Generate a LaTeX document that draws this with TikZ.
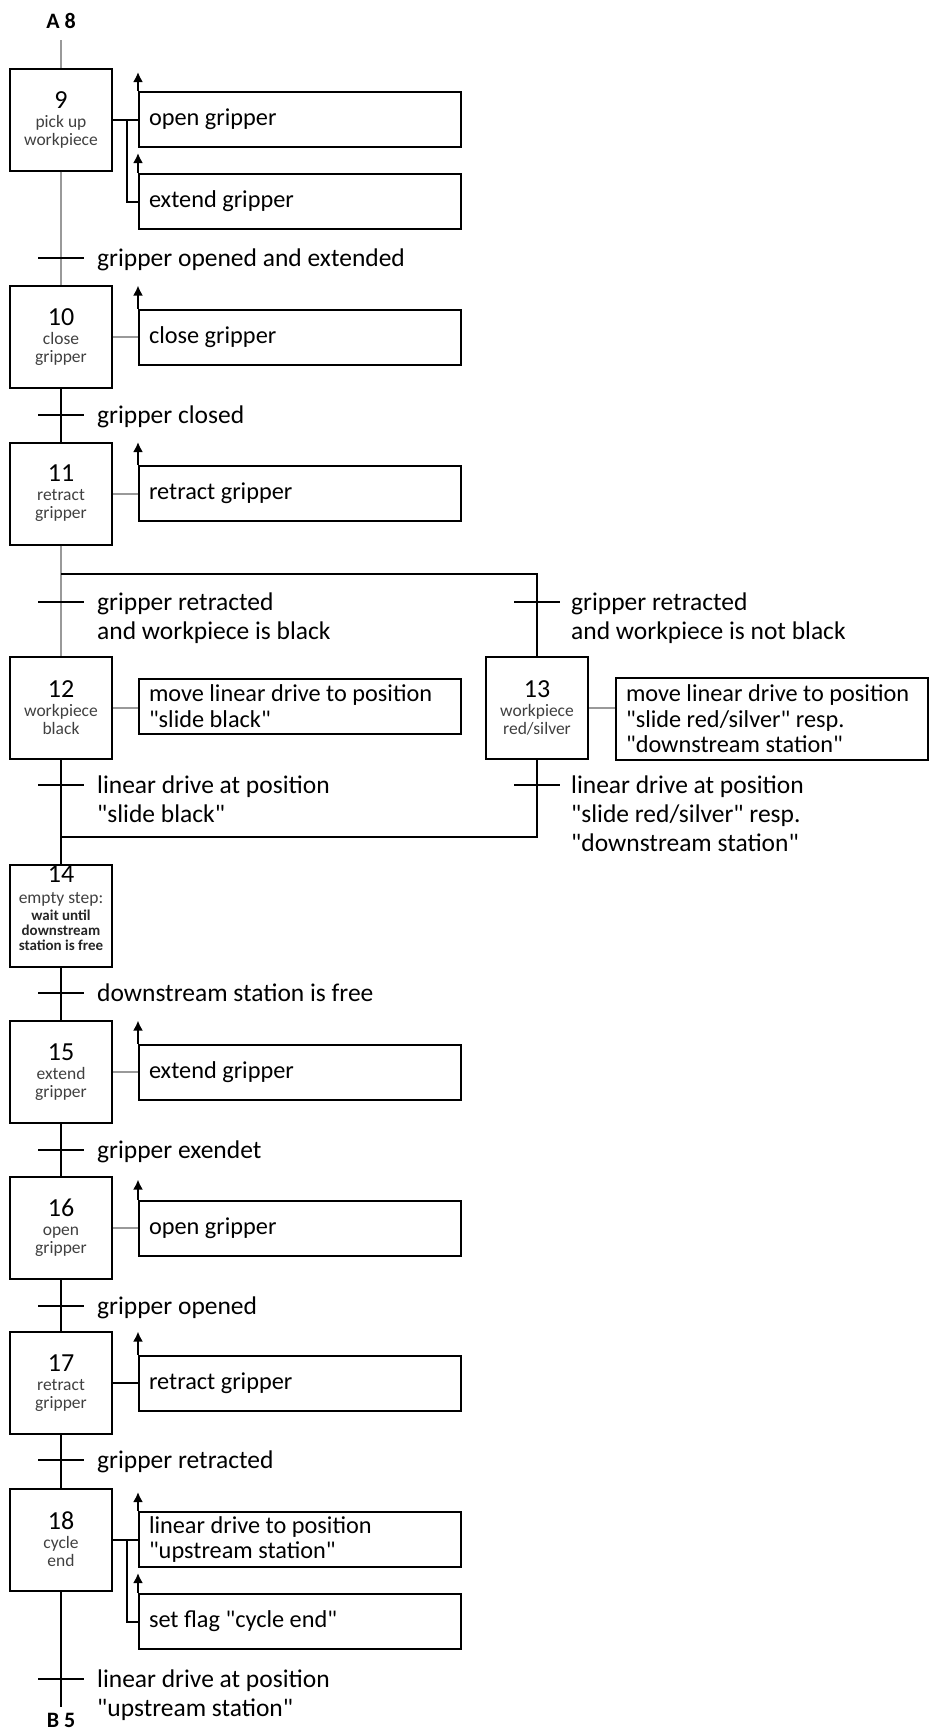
\documentclass[tikz,border=0pt]{standalone}
\usepackage{fontspec}
\setmainfont{Carlito}
\usetikzlibrary{arrows.meta}
\newcommand{\stepnumfont}{\fontsize{26}{28}\selectfont\mdseries\color{black}}
\newcommand{\qt}[1]{\textquotedbl#1\textquotedbl}
\begin{document}
\begin{tikzpicture}[x=1pt,y=-1pt,
    stepbox/.style={draw, line width=2pt, minimum width=102pt, minimum height=102pt, inner sep=0pt,
      align=center, font=\fontsize{17.5}{18}\selectfont, text=black!75},
    actbox/.style={draw, line width=2pt, minimum height=55pt, inner xsep=10pt, inner ysep=2pt,
      text width=302pt, align=flush left, font=\fontsize{24.3}{25.5}\selectfont, anchor=west},
    translabel/.style={anchor=north west, inner sep=0pt, align=left, font=\fontsize{25.5}{29}\selectfont},
    tick/.style={line width=2pt},
    bline/.style={line width=2pt},
    gline/.style={line width=2pt, black!40},
    actarrow/.style={line width=2pt, -{Latex[length=10pt,width=10pt]}},
  ]
  \useasboundingbox (0,0) rectangle (929,1733);

  \node[font=\fontsize{22}{24}\selectfont\bfseries, inner sep=0pt] (a8) at (61,21) {A 8};
  \coordinate (in9) at (61,40);

  \node[stepbox] (s9) at (61,119.5) {{\stepnumfont 9}\\[1pt]pick up\\workpiece};
  \node[stepbox] (s10) at (61,337) {{\stepnumfont 10}\\[1pt]close\\gripper};
  \node[stepbox] (s11) at (61,493.5) {{\stepnumfont 11}\\[1pt]retract\\gripper};
  \node[stepbox] (s12) at (61,707.5) {{\stepnumfont 12}\\[1pt]workpiece\\black};
  \node[stepbox] (s13) at (537,707.5) {{\stepnumfont 13}\\[1pt]workpiece\\red/silver};
  \node[stepbox] (s14) at (61,916) {};
  \node[inner sep=0pt, anchor=north, align=center, text=black!85,
    font=\fontsize{15}{15}\selectfont\bfseries] (s14t) at (61,866)
    {{\stepnumfont 14}\\[6pt]{\fontsize{17.5}{17}\selectfont\mdseries\color{black!75}empty step:}\\[2pt]wait until\\downstream\\station is free};
  \node[stepbox] (s15) at (61,1072) {{\stepnumfont 15}\\[1pt]extend\\gripper};
  \node[stepbox] (s16) at (61,1228) {{\stepnumfont 16}\\[1pt]open\\gripper};
  \node[stepbox] (s17) at (61,1383) {{\stepnumfont 17}\\[1pt]retract\\gripper};
  \node[stepbox] (s18) at (61,1539.5) {{\stepnumfont 18}\\[1pt]cycle\\end};

  \coordinate (out18) at (61,1707);
  \node[font=\fontsize{22}{24}\selectfont\bfseries, inner sep=0pt, anchor=north] (b5) at (61,1713) {B 5};

  \node[actbox] (a9a) at (138,119.5) {open gripper};
  \node[actbox] (a9b) at (138,201.5) {extend gripper};
  \node[actbox] (a10) at (138,337) {close gripper};
  \node[actbox] (a11) at (138,493.5) {retract gripper};
  \node[actbox] (a12) at (138,706) {move linear drive to position\\\qt{slide black}};
  \node[actbox, text width=292pt, minimum height=82pt] (a13) at (615,719)
    {move linear drive to position\\\qt{slide red/silver} resp.\\\qt{downstream station}};
  \node[actbox] (a15) at (138,1072) {extend gripper};
  \node[actbox] (a16) at (138,1228) {open gripper};
  \node[actbox] (a17) at (138,1383) {retract gripper};
  \node[actbox] (a18a) at (138,1539.5) {linear drive to position\\\qt{upstream station}};
  \node[actbox] (a18b) at (138,1621.5) {set flag \qt{cycle end}};

  \coordinate (br12) at (61,574);
  \coordinate (br13) at (537,574);
  \coordinate (jn12) at (61,837);
  \coordinate (jn13) at (537,837);

  \draw[gline] (in9) -- (s9);
  \draw[gline] (s9) -- (s10);
  \draw[bline] (s10) -- (s11);
  \draw[gline] (s11) -- (br12) -- (s12);
  \draw[bline] (br12) -- (br13) -- (s13);
  \draw[bline] (s12) -- (jn12) -- (jn13) -- (s13);
  \draw[bline] (jn12) -- (s14);
  \draw[bline] (s14) -- (s15);
  \draw[bline] (s15) -- (s16);
  \draw[bline] (s16) -- (s17);
  \draw[bline] (s17) -- (s18);
  \draw[bline] (s18) -- (out18);

  \coordinate (t9) at (61,258);
  \coordinate (t10) at (61,415);
  \coordinate (t12) at (61,602);
  \coordinate (t13) at (537,602);
  \coordinate (t12b) at (61,785);
  \coordinate (t13b) at (537,785);
  \coordinate (t14) at (61,993);
  \coordinate (t15) at (61,1150);
  \coordinate (t16) at (61,1306);
  \coordinate (t17) at (61,1460);
  \coordinate (t18) at (61,1679);
  \foreach \t in {t9,t10,t12,t13,t12b,t13b,t14,t15,t16,t17,t18}
    \draw[tick] ([xshift=-23pt]\t) -- ([xshift=23pt]\t);

  \node[translabel] (l9) at (97,249) {gripper opened and extended};
  \node[translabel] (l10) at (97,406) {gripper closed};
  \node[translabel] (l12) at (97,593) {gripper retracted\\and workpiece is black};
  \node[translabel] (l13) at (571,593) {gripper retracted\\and workpiece is not black};
  \node[translabel] (l12b) at (97,776) {linear drive at position\\\qt{slide black}};
  \node[translabel] (l13b) at (571,776) {linear drive at position\\\qt{slide red/silver} resp.\\\qt{downstream station}};
  \node[translabel] (l14) at (97,984) {downstream station is free};
  \node[translabel] (l15) at (97,1141) {gripper exendet};
  \node[translabel] (l16) at (97,1297) {gripper opened};
  \node[translabel] (l17) at (97,1451) {gripper retracted};
  \node[translabel] (l18) at (97,1670) {linear drive at position\\\qt{upstream station}};

  \draw[bline] (s9.east) -- (a9a.west);
  \draw[bline] ([xshift=14pt]s9.east) |- (a9b.west);
  \draw[gline] (s10.east) -- (a10.west);
  \draw[gline] (s11.east) -- (a11.west);
  \draw[gline] (s12.east) -- (s12.east -| a12.west);
  \draw[gline] (s13.east) -- (s13.east -| a13.west);
  \draw[gline] (s15.east) -- (a15.west);
  \draw[gline] (s16.east) -- (a16.west);
  \draw[bline] (s17.east) -- (a17.west);
  \draw[bline] (s18.east) -- (a18a.west);
  \draw[bline] ([xshift=14pt]s18.east) |- (a18b.west);

  \draw[actarrow] (a9a.north west) -- ++(0,-19);
  \draw[actarrow] (a9b.north west) -- ++(0,-20);
  \draw[actarrow] (a10.north west) -- ++(0,-23);
  \draw[actarrow] (a11.north west) -- ++(0,-23);
  \draw[actarrow] (a15.north west) -- ++(0,-23);
  \draw[actarrow] (a16.north west) -- ++(0,-20);
  \draw[actarrow] (a17.north west) -- ++(0,-23);
  \draw[actarrow] (a18a.north west) -- ++(0,-19);
  \draw[actarrow] (a18b.north west) -- ++(0,-20);
\end{tikzpicture}
\end{document}
